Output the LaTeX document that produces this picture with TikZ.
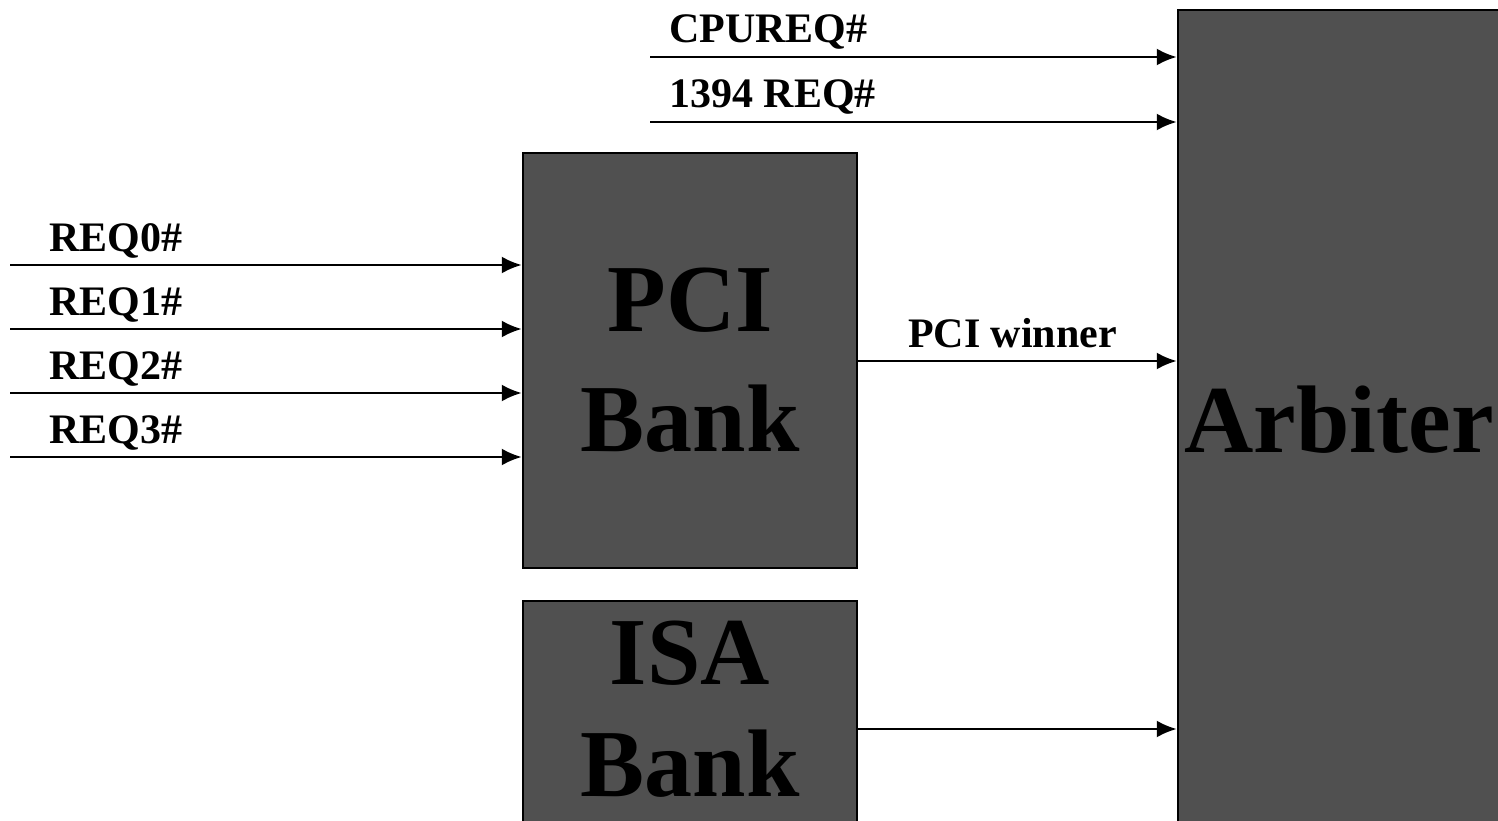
\documentclass[tikz,border=0pt]{standalone}
\usepackage{fontspec}
\setmainfont{Liberation Serif}
\usetikzlibrary{arrows.meta}
\definecolor{blkgray}{RGB}{80,80,80}
\begin{document}
\begin{tikzpicture}[x=1pt,y=-1pt,
    blk/.style={draw, line width=2.5pt, fill=blkgray, align=center, inner sep=0pt, font=\fontsize{96}{120}\selectfont\bfseries},
    sig/.style={line width=2.5pt, -{Latex[length=20pt,width=17pt]}},
    lbl/.style={inner sep=0pt, font=\fontsize{42}{48}\selectfont\bfseries}]
    \useasboundingbox (0,0) rectangle (1498,821);
    \clip (0,0) rectangle (1498,821);
    \node[blk, minimum width=322pt, minimum height=820pt] (arb) at (1339,420) {Arbiter};
    \node[blk, minimum width=334pt, minimum height=415pt] (pci) at (690,360.5) {PCI\\Bank};
    \node[blk, minimum width=334pt, minimum height=232pt, text depth=16pt, font=\fontsize{96}{112}\selectfont\bfseries] (isa) at (690,717) {ISA\\Bank};
    \coordinate (cpu) at (650,57);
    \coordinate (fw) at (650,122);
    \coordinate (r0) at (10,265);
    \coordinate (r1) at (10,329);
    \coordinate (r2) at (10,393);
    \coordinate (r3) at (10,457);
    \coordinate (pw) at (0,361);
    \coordinate (iw) at (0,729);
    \draw[sig] (cpu) -- (cpu -| arb.west) node[lbl, pos=0, anchor=base west, xshift=18pt, yshift=14pt] (lcpu) {CPUREQ\#};
    \draw[sig] (fw) -- (fw -| arb.west) node[lbl, pos=0, anchor=base west, xshift=18pt, yshift=14pt] (lfw) {1394 REQ\#};
    \draw[sig] (r0) -- (r0 -| pci.west) node[lbl, pos=0, anchor=base west, xshift=38pt, yshift=14pt] (lr0) {REQ0\#};
    \draw[sig] (r1) -- (r1 -| pci.west) node[lbl, pos=0, anchor=base west, xshift=38pt, yshift=14pt] (lr1) {REQ1\#};
    \draw[sig] (r2) -- (r2 -| pci.west) node[lbl, pos=0, anchor=base west, xshift=38pt, yshift=14pt] (lr2) {REQ2\#};
    \draw[sig] (r3) -- (r3 -| pci.west) node[lbl, pos=0, anchor=base west, xshift=38pt, yshift=14pt] (lr3) {REQ3\#};
    \draw[sig] (pci.east |- pw) -- (arb.west |- pw) node[lbl, midway, anchor=base, xshift=-5pt, yshift=14pt] (lpw) {PCI winner};
    \draw[sig] (isa.east |- iw) -- (arb.west |- iw);
\end{tikzpicture}
\end{document}
